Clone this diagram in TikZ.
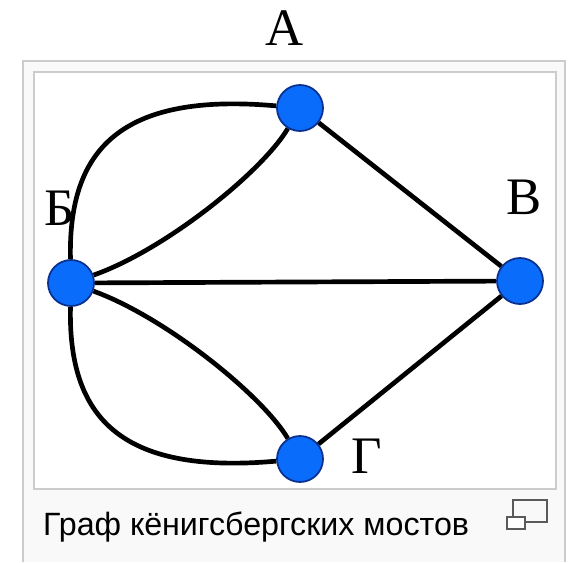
\documentclass[tikz,border=0pt]{standalone}
\usepackage{fontspec}
\setmainfont{Liberation Serif}
\newfontfamily\capfont{Liberation Sans}
\usepackage{tikz}
\usetikzlibrary{arrows.meta,positioning,calc}
\definecolor{vertblue}{HTML}{0A6CFA}
\definecolor{vertedge}{HTML}{0A3090}
\definecolor{thumbgray}{HTML}{CCCCCC}
\definecolor{thumbfill}{HTML}{F9F9F9}
\definecolor{icongray}{HTML}{5A5A5A}

\begin{document}
\begin{tikzpicture}[
    x=0.03cm, y=-0.03cm,
    vertex/.style={circle, draw=vertedge, fill=vertblue, line width=1.5pt, minimum size=46*0.03cm, inner sep=0pt},
    letter/.style={font=\fontsize{45}{45}\selectfont, inner sep=0pt},
    bridge/.style={line width=4pt, black},
    frame/.style={draw=thumbgray, line width=1.2pt}
  ]
    \useasboundingbox (0,0) rectangle (572,562);
    % thumbnail frame
    \fill[thumbfill] (23,61) rectangle (565,562);
    \draw[frame] (23,562) -- (23,61) -- (565,61) -- (565,562);
    \filldraw[frame, fill=white] (34,72) rectangle (556,489);

    \node[vertex] (A) at (300,108) {};
    \node[vertex] (B) at (71,283) {};
    \node[vertex] (V) at (520,281) {};
    \node[vertex] (G) at (300,459) {};

    \node[letter] (la) at (285,28) {А};
    \node[letter] (lb) at (60,208) {Б};
    \node[letter] (lv) at (524,197) {В};
    \node[letter] (lg) at (367,456) {Г};

    \draw[bridge] (A) -- (V);
    \draw[bridge] (B) -- (V);
    \draw[bridge] (G) -- (V);
    \draw[bridge] (B) .. controls (68,150) and (120,92) .. (A);
    \draw[bridge] (B) .. controls (165,250) and (262,172) .. (A);
    \draw[bridge] (B) .. controls (68,417) and (120,475) .. (G);
    \draw[bridge] (B) .. controls (165,317) and (262,395) .. (G);

    \node[anchor=base west, inner sep=0pt, font=\capfont\fontsize{27.5}{27.5}\selectfont, text=black] (cap) at (43,535) {Граф кёнигсбергских мостов};

    % enlarge icon
    \draw[icongray, line width=1.4pt] (513,500) rectangle (547,522);
    \filldraw[icongray, fill=white, line width=1.4pt] (507,517) rectangle (525,529);
  \end{tikzpicture}
\end{document}
